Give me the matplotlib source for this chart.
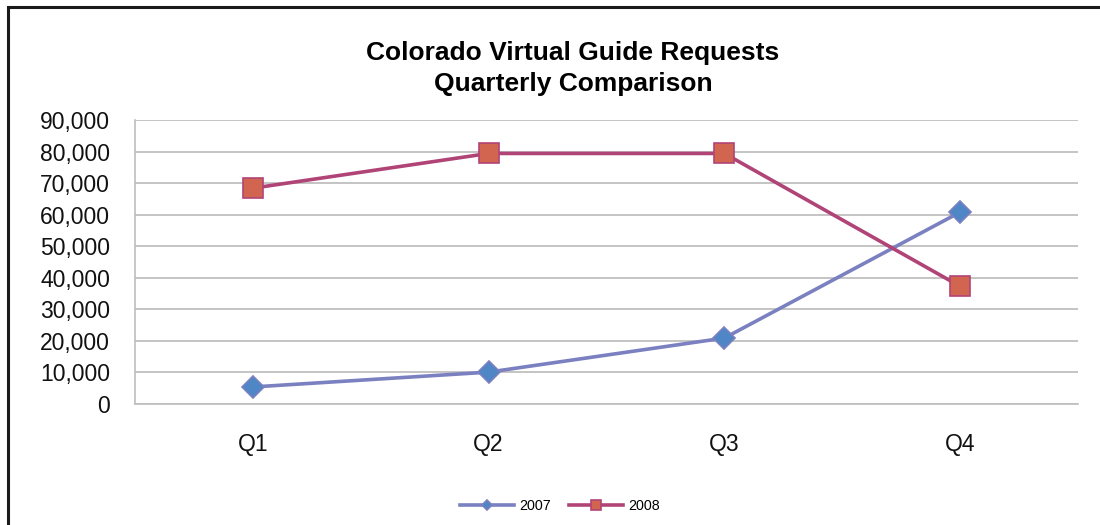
import matplotlib
matplotlib.use("Agg")
import matplotlib.pyplot as plt
from matplotlib.patches import Rectangle
from matplotlib.ticker import FuncFormatter, MultipleLocator

plt.rcParams["font.family"] = ["Liberation Sans", "DejaVu Sans"]

quarters = ["Q1", "Q2", "Q3", "Q4"]
requests2007 = [5400, 10100, 20900, 60800]
requests2008 = [68400, 79400, 79400, 37300]

fig = plt.figure(figsize = (11, 5.25), dpi = 100, facecolor = "white")

# outer chart border (cut off at right and bottom like the screenshot)
fig.patches.append(Rectangle((8 / 1100, -0.1), 1.2, 1.1 - 7 / 525, transform = fig.transFigure,
                             fill = False, edgecolor = "#1a1a1a", linewidth = 2.2))

ax = fig.add_axes([135 / 1100, 121 / 525, (1078 - 135) / 1100, (404 - 120) / 525])

x = list(range(len(quarters)))

ax.plot(x, requests2007, color = "#7a80c0", linewidth = 2.6, marker = "D", markersize = 11,
        markerfacecolor = "#4f86c6", markeredgecolor = "#7a80c0", markeredgewidth = 1.2,
        label = "2007", zorder = 3)
ax.plot(x, requests2008, color = "#b04477", linewidth = 2.6, marker = "s", markersize = 14,
        markerfacecolor = "#d2654f", markeredgecolor = "#b04477", markeredgewidth = 1.2,
        label = "2008", zorder = 4)

ax.set_xlim(-0.5, 3.5)
ax.set_ylim(0, 90000)
ax.yaxis.set_major_locator(MultipleLocator(10000))
ax.yaxis.set_major_formatter(FuncFormatter(lambda v, p: f"{int(v):,}"))
ax.set_xticks(x)
ax.set_xticklabels(quarters)

ax.grid(True, axis = "y", color = "#c4c4c4", linewidth = 1.4)
ax.set_axisbelow(True)
ax.tick_params(axis = "y", length = 0, pad = 18, labelsize = 16.5, colors = "#111111")
ax.tick_params(axis = "x", length = 0, pad = 21, labelsize = 16.5, colors = "#111111")

for side in ["top", "right"]:
    ax.spines[side].set_visible(False)
ax.spines["left"].set_color("#bdbdbd")
ax.spines["bottom"].set_color("#bdbdbd")
ax.spines["left"].set_linewidth(1.2)
ax.spines["bottom"].set_linewidth(1.2)

fig.text(573 / 1100, 1 - 68.5 / 525, "Colorado Virtual Guide Requests\nQuarterly Comparison",
         ha = "center", va = "center", fontsize = 19, fontweight = "bold", linespacing = 1.35)

legend = fig.legend(loc = "center", bbox_to_anchor = (560 / 1100, 1 - 506 / 525), ncol = 2,
                    frameon = False, fontsize = 10.3, handlelength = 3.8, columnspacing = 1.2,
                    handletextpad = 0.4, markerscale = 0.5)

fig.savefig("out.png", dpi = 100, facecolor = fig.get_facecolor())
